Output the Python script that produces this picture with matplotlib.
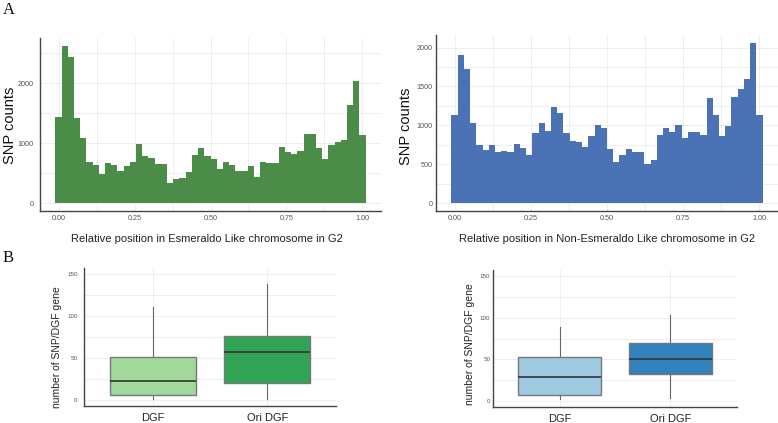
import matplotlib
matplotlib.use("Agg")
import numpy as np
import matplotlib.pyplot as plt
from matplotlib.ticker import MultipleLocator

W, H = 778, 423

# ---------------------------------------------------------------------------
# Data
# ---------------------------------------------------------------------------
N_BINS = 50
esm_counts = [1433, 2622, 2444, 1417, 1078, 678, 644, 478, 667, 633,
              539, 622, 683, 989, 794, 750, 656, 650, 344, 400,
              422, 511, 800, 922, 789, 728, 567, 678, 644, 528,
              528, 611, 433, 694, 661, 661, 939, 850, 811, 872,
              1150, 1150, 922, 733, 961, 1017, 1056, 1633, 2044, 1144]
non_counts = [1135, 1906, 1730, 1032, 745, 685, 741, 660, 668, 655,
              762, 702, 621, 904, 1024, 921, 1238, 1165, 895, 797,
              788, 724, 869, 1002, 972, 690, 522, 621, 698, 660,
              660, 497, 557, 878, 968, 912, 1002, 839, 912, 908,
              878, 1353, 1131, 869, 994, 1366, 1469, 1597, 2060, 1139]

box_groups = ["DGF", "Ori DGF"]
# whislo, q1, median, q3, whishi
esm_dgf = [1.2, 6, 22.7, 51, 110.6]
esm_ori = [1.2, 19.9, 56.9, 76.7, 138]
non_dgf = [2, 7.2, 28.2, 53, 89]
non_ori = [2.9, 32.2, 50, 69.6, 103.4]

# Colours
GREEN = "#4A8C48"
BLUE = "#4A72B4"
GREENS = ["#A1D99B", "#31A354"]
BLUES = ["#9ECAE1", "#3182BD"]
GRID = "#EBEBEB"
AXLINE = "#444444"
TICK = "#555555"

SANS = ["Liberation Sans", "DejaVu Sans"]
plt.rcParams["font.family"] = SANS


def px_axes(fig, x0, y0, x1, y1):
    return fig.add_axes([x0 / W, 1 - y1 / H, (x1 - x0) / W, (y1 - y0) / H])


def ftext(fig, x, y, s, **kw):
    fig.text(x / W, 1 - y / H, s, ha="center", va="center", **kw)


def style(ax, fs, pad_x, pad_y):
    for side in ("top", "right"):
        ax.spines[side].set_visible(False)
    for side in ("left", "bottom"):
        ax.spines[side].set_color(AXLINE)
        ax.spines[side].set_linewidth(1.0)
    ax.grid(True, which="both", color=GRID, linewidth=0.6)
    ax.set_axisbelow(True)
    ax.tick_params(which="both", length=0, labelsize=fs, labelcolor=TICK)
    ax.tick_params(axis="x", pad=pad_x)
    ax.tick_params(axis="y", pad=pad_y)


def hist_panel(fig, box, counts, color, ymax, ystep, pad_y):
    ax = px_axes(fig, *box)
    centers = np.arange(N_BINS) / (N_BINS - 1)
    ax.bar(centers, counts, width=1 / (N_BINS - 1), color=color,
           linewidth=0, align="center", zorder=2)
    ax.set_xlim(-0.061, 1.061)
    ax.set_ylim(-0.05 * ymax, 1.05 * ymax)
    ax.xaxis.set_major_locator(MultipleLocator(0.25))
    ax.xaxis.set_minor_locator(MultipleLocator(0.125))
    ax.yaxis.set_major_locator(MultipleLocator(ystep))
    ax.yaxis.set_minor_locator(MultipleLocator(ystep / 2))
    ax.set_xticks([0, 0.25, 0.5, 0.75, 1.0])
    ax.set_xticklabels(["0.00", "0.25", "0.50", "0.75", "1.00"])
    style(ax, 5.2, 3, pad_y)
    return ax


def box_panel(fig, box, stats, colors, pad_y):
    ax = px_axes(fig, *box)
    bstats = []
    for name, s in zip(box_groups, stats):
        bstats.append(dict(label=name, whislo=s[0], q1=s[1], med=s[2],
                           q3=s[3], whishi=s[4], fliers=[]))
    parts = ax.bxp(bstats, positions=[1, 2], widths=0.75, showfliers=False,
                   showcaps=False, patch_artist=True,
                   boxprops=dict(edgecolor="#777777", linewidth=1.0),
                   whiskerprops=dict(color="#666666", linewidth=0.8),
                   medianprops=dict(color="#333333", linewidth=1.2))
    for patch, c in zip(parts["boxes"], colors):
        patch.set_facecolor(c)
        patch.set_zorder(3)
    for med in parts["medians"]:
        med.set_zorder(4)
    ax.set_xlim(0.4, 2.6)
    ax.set_ylim(-7.5, 157.5)
    ax.yaxis.set_major_locator(MultipleLocator(50))
    ax.yaxis.set_minor_locator(MultipleLocator(25))
    style(ax, 4.5, 5, pad_y)
    ax.grid(False, which="minor", axis="x")
    ax.tick_params(axis="x", labelsize=8, labelcolor="#222222")
    return ax


fig = plt.figure(figsize=(W / 100, H / 100), dpi=100)

hist_panel(fig, (40, 38, 381, 211), esm_counts, GREEN, 2622, 1000, 4.5)
hist_panel(fig, (436, 35, 778, 211), non_counts, BLUE, 2060, 500, 2.5)

box_panel(fig, (84, 268, 336, 406), [esm_dgf, esm_ori], GREENS, 4.5)
box_panel(fig, (493, 270, 737, 407), [non_dgf, non_ori], BLUES, 2)

# axis titles
ftext(fig, 10, 125, "SNP counts", fontsize=10.5, rotation=90, color="#111111")
ftext(fig, 406, 126, "SNP counts", fontsize=10.5, rotation=90, color="#111111")
ftext(fig, 206.5, 239, "Relative position in Esmeraldo Like chromosome in G2",
      fontsize=8, color="#222222")
ftext(fig, 607.5, 239, "Relative position in Non-Esmeraldo Like chromosome in G2",
      fontsize=8, color="#222222")
ftext(fig, 57.5, 347, "number of SNP/DGF gene", fontsize=7.5, rotation=90,
      color="#222222")
ftext(fig, 470.5, 344, "number of SNP/DGF gene", fontsize=7.5, rotation=90,
      color="#222222")

# panel letters
SERIF = ["Liberation Serif", "DejaVu Serif"]
ftext(fig, 9, 10, "A", fontsize=12, family=SERIF, color="#111111")
ftext(fig, 8, 258, "B", fontsize=12, family=SERIF, color="#111111")

fig.savefig("out.png", dpi=100)
